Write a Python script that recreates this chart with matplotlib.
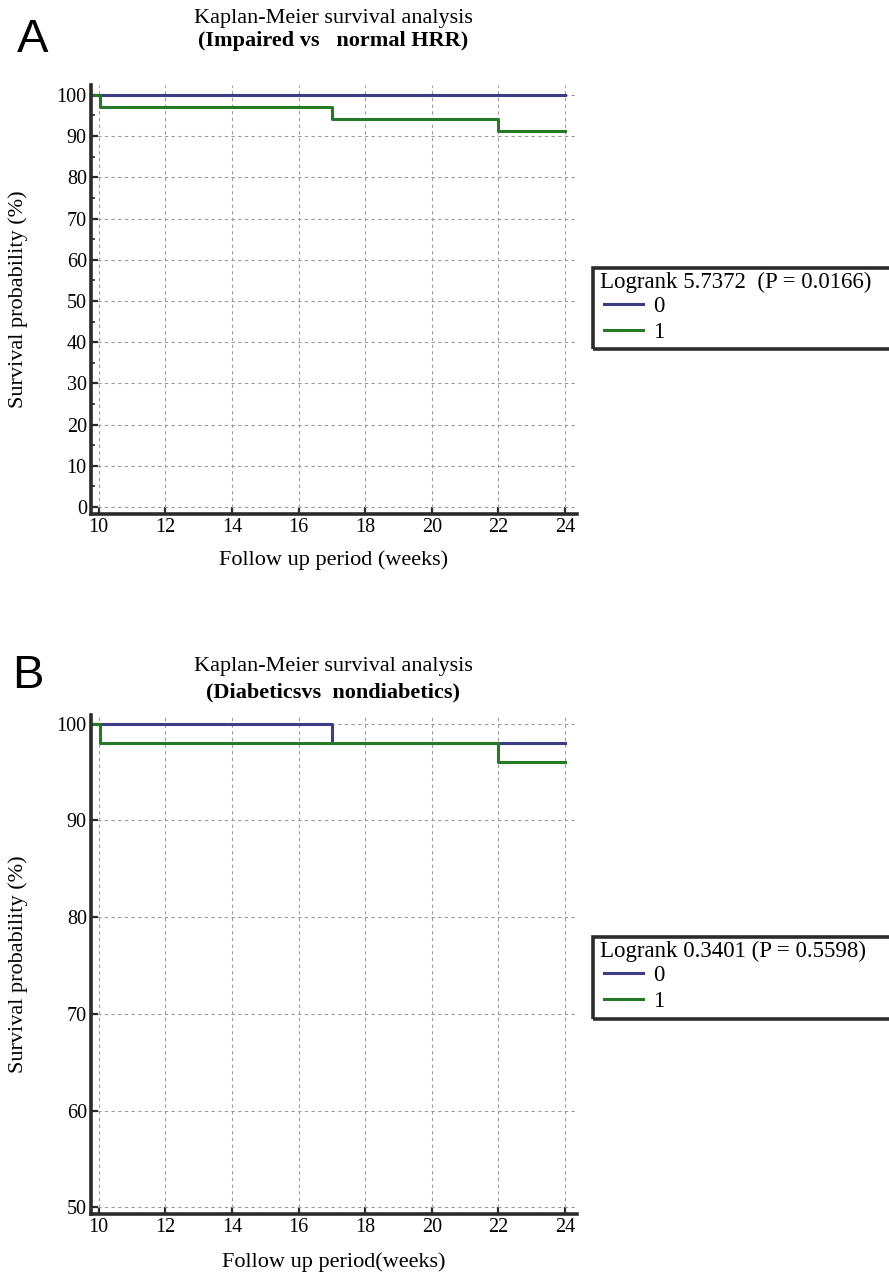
import numpy as np
import matplotlib.pyplot as plt
from matplotlib.patches import Rectangle

plt.rcParams['font.family'] = ['Liberation Serif', 'DejaVu Serif']

# step curves: time points and survival (%) for groups 0 and 1
# panel A (impaired vs normal HRR)
a_t0 = [9.8, 24]
a_s0 = [100, 100]
a_t1 = [9.8, 10.05, 17, 22, 24]
a_s1 = [100, 97.06, 94.12, 91.18, 91.18]
a_stat = "Logrank 5.7372  (P = 0.0166)"

# panel B (diabetics vs nondiabetics)
b_t0 = [9.8, 17, 24]
b_s0 = [100, 98, 98]
b_t1 = [9.8, 10.05, 22, 24]
b_s1 = [100, 98, 96, 96]
b_stat = "Logrank 0.3401 (P = 0.5598)"

groups = ["0", "1"]
xticks = [10, 12, 14, 16, 18, 20, 22, 24]

blue = "#3d3d85"
green = "#267a26"

fig = plt.figure(figsize=(8.89, 12.78), dpi=100)
W, H = 889, 1278


def px_axes(l, t, r, b):
    return fig.add_axes([l / W, 1 - b / H, (r - l) / W, (b - t) / H])


def setup(ax, ylim, yticks, minor=None):
    ax.set_xlim(9.77, 24.36)
    ax.set_ylim(*ylim)
    ax.set_xticks(xticks)
    ax.set_yticks(yticks)
    if minor is not None:
        ax.set_yticks(minor, minor=True)
    for s in ["top", "right"]:
        ax.spines[s].set_visible(False)
    for s in ["left", "bottom"]:
        ax.spines[s].set_linewidth(2.6)
        ax.spines[s].set_color("#2b2b2b")
    ax.tick_params(direction="in", length=5, width=1.6, color="#2b2b2b",
                   labelsize=14.5, pad=3)
    ax.tick_params(which="minor", direction="in", length=3, width=1.2, color="#2b2b2b")
    ax.grid(True, linestyle=(0, (3, 3)), color="#9a9a9a", linewidth=0.8)
    ax.set_axisbelow(True)


def km(ax, t0, s0, t1, s1):
    l0, = ax.step(t0, s0, where="post", color=blue, lw=2.2, label=groups[0])
    l1, = ax.step(t1, s1, where="post", color=green, lw=2.2, label=groups[1])
    return [l0, l1]


def labels(ax, xlab, height_px, xlab_px):
    ax.set_xlabel(xlab, fontsize=16)
    ax.set_ylabel("Survival probability (%)", fontsize=16)
    ax.xaxis.set_label_coords(0.5, -xlab_px / height_px)
    ax.xaxis.label.set_va("center")
    ax.yaxis.set_label_coords(-73 / 486, 0.5)
    ax.yaxis.label.set_va("center")


def legend_box(ax, handles, stat, top, bottom):
    fig.add_artist(Rectangle((593 / W, 1 - bottom / H), 320 / W, (bottom - top) / H,
                             transform=fig.transFigure, fill=False,
                             edgecolor="#2b2b2b", lw=2.6))
    fig.text(600 / W, 1 - (top + 14) / H, stat, ha="left", va="center", fontsize=16.5)
    ax.legend(handles=handles, loc="upper left",
              bbox_to_anchor=(604 / W, 1 - (top + 28) / H),
              bbox_transform=fig.transFigure, frameon=False,
              fontsize=16.5, handlelength=1.7,
              handletextpad=0.45, labelspacing=0.2, borderpad=0,
              borderaxespad=0)


# ---- panel A ----
axA = px_axes(91, 85, 577, 514)
setup(axA, (-1.7, 102.4), range(0, 101, 10), range(5, 100, 10))
hA = km(axA, a_t0, a_s0, a_t1, a_s1)
labels(axA, "Follow up period (weeks)", 429, 46)
legend_box(axA, hA, a_stat, 268, 349)
fig.text(333 / W, 1 - 18 / H, "Kaplan-Meier survival analysis", ha="center", va="center", fontsize=16)
fig.text(333 / W, 1 - 41 / H, "(Impaired vs   normal HRR)", ha="center", va="center",
         fontsize=16, fontweight="bold")
fig.text(33 / W, 1 - 40 / H, "A", ha="center", va="center", fontsize=34,
         family="Liberation Sans")

# ---- panel B ----
axB = px_axes(91, 715, 577, 1214)
setup(axB, (49.3, 100.9), range(50, 101, 10))
hB = km(axB, b_t0, b_s0, b_t1, b_s1)
labels(axB, "Follow up period(weeks)", 499, 48)
legend_box(axB, hB, b_stat, 937, 1019)
fig.text(333 / W, 1 - 667 / H, "Kaplan-Meier survival analysis", ha="center", va="center", fontsize=16)
fig.text(333 / W, 1 - 692 / H, "(Diabeticsvs  nondiabetics)", ha="center", va="center",
         fontsize=16, fontweight="bold")
fig.text(28 / W, 1 - 676 / H, "B", ha="center", va="center", fontsize=34,
         family="Liberation Sans")

fig.savefig("out.png", dpi=100)
